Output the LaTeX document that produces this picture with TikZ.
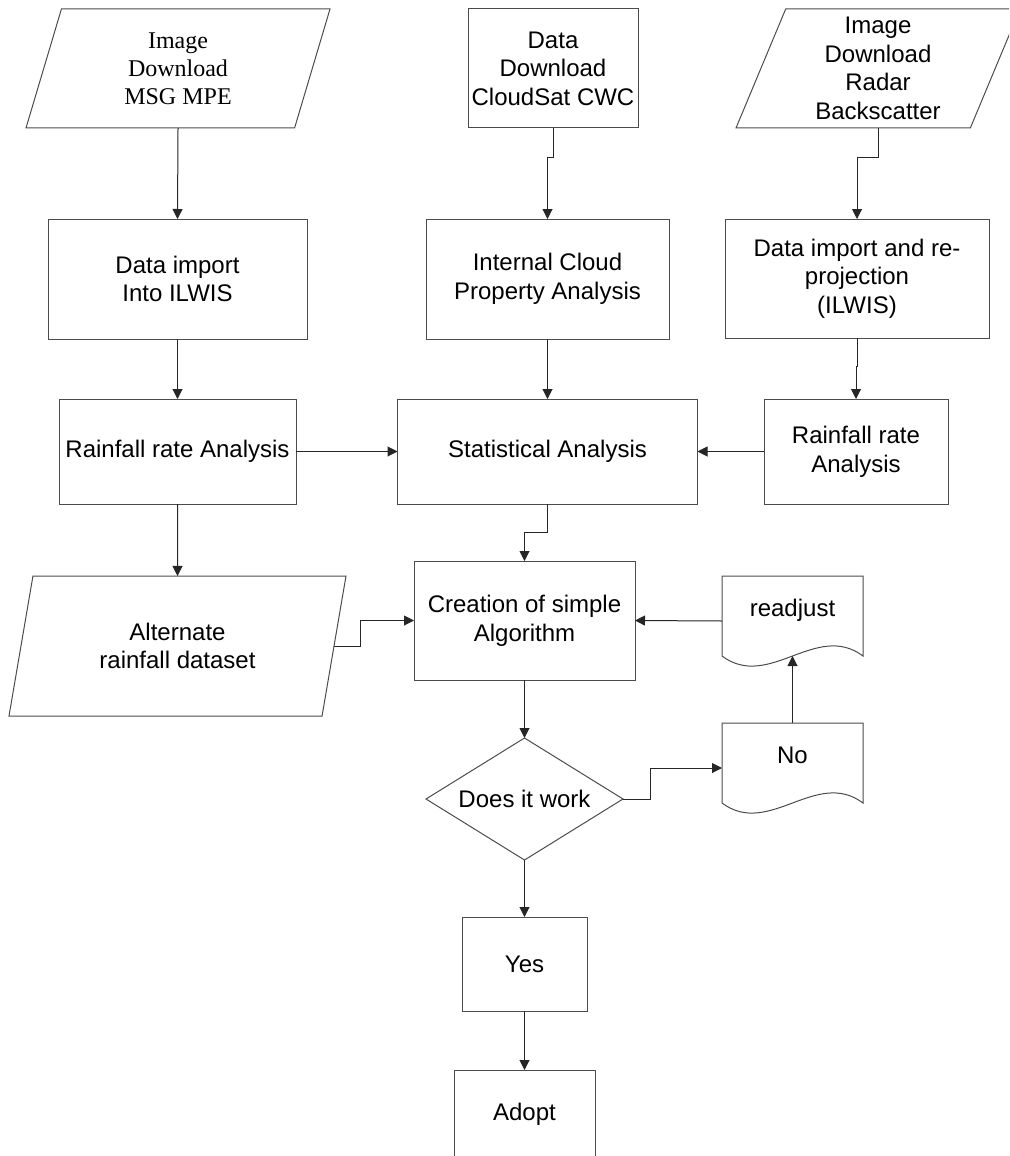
\documentclass[tikz,border=0pt]{standalone}
\usepackage{fontspec}
\setmainfont{Liberation Sans}
\newfontfamily\serifbox{Liberation Serif}
\usetikzlibrary{positioning, shapes.geometric, arrows.meta}

\begin{document}
\begin{tikzpicture}[
        x=0.5pt, y=-0.5pt,
        every node/.style={font=\fontsize{12pt}{14.3pt}\selectfont, align=center, outer sep=0pt},
        boxsize/.style 2 args={minimum width=#1*0.5pt, minimum height=#2*0.5pt},
        process/.style={rectangle, draw=black!70, line width=0.5pt, inner sep=1pt},
        inout/.style={trapezium, trapezium left angle=65, trapezium right angle=115, trapezium stretches body, draw=black!70, line width=0.5pt, inner sep=1pt},
        decision/.style={diamond, draw=black!70, line width=0.5pt, inner sep=0pt, aspect=1.6},
        docbox/.style={rectangle, inner sep=1pt, text height=9pt, text depth=14pt},
        flow/.style={-{Triangle[length=5pt, width=5pt]}, line width=0.5pt, black!85},
    ]
        \useasboundingbox (0,0) rectangle (1009,1156);
        \clip (0,0) rectangle (1009,1156);

        % Nodes
        \node[inout, boxsize={304}{119}, font=\serifbox\fontsize{12pt}{14pt}\selectfont] (msg) at (178,68.5) {Image\\Download\\MSG MPE};
        \node[process, boxsize={170}{119}] (cloudsat) at (553,68.5) {Data\\Download\\CloudSat CWC};
        \node[inout, boxsize={284}{119}] (radar) at (878,68.5) {Image\\Download\\Radar\\Backscatter};

        \node[process, boxsize={259}{120}] (ilwis) at (177.5,279) {Data import\\Into ILWIS};
        \node[process, boxsize={243}{120}] (internal) at (547.5,279) {Internal Cloud\\Property Analysis};
        \node[process, boxsize={264}{119}] (reproj) at (857,278.5) {Data import and re-\\projection\\(ILWIS)};

        \node[process, boxsize={237}{105}] (rainleft) at (177.5,451.5) {Rainfall rate Analysis};
        \node[process, boxsize={300}{105}] (stats) at (547.5,451.5) {Statistical Analysis};
        \node[process, boxsize={184}{105}] (rainright) at (856,451.5) {Rainfall rate\\Analysis};

        \node[inout, boxsize={337}{140}, trapezium left angle=64.5, trapezium right angle=115.5] (alt) at (177.5,646) {Alternate\\rainfall dataset};
        \node[process, boxsize={221}{119}] (creation) at (524.5,620.5) {Creation of simple\\Algorithm};
        \node[docbox, boxsize={141}{90}] (readjust) at (792.5,621) {readjust};

        \node[decision, boxsize={197}{122}] (works) at (524.5,799) {Does it work};
        \node[docbox, boxsize={141}{90}] (no) at (792.5,768) {No};

        \node[process, boxsize={125}{94}] (yes) at (524.5,964) {Yes};
        \node[process, boxsize={141}{88}] (adopt) at (524.5,1114) {Adopt};

        % Document outlines
        \foreach \d in {readjust, no}
            \draw[black!70, line width=0.5pt] (\d.north west) -- (\d.north east) -- ([shift={(0,-10)}]\d.south east)
                .. controls ([shift={(-47,-45)}]\d.south east) and ([shift={(47,25)}]\d.south west)
                .. ([shift={(0,-10)}]\d.south west) -- cycle;

        % Arrows
        \draw[flow] (msg.south) -- (ilwis.north);
        \draw[flow] (cloudsat.south) -- ++(0,29) -| (internal.north);
        \draw[flow] (radar.south) -- ++(0,29) -| (reproj.north);
        \draw[flow] (ilwis.south) -- (rainleft.north);
        \draw[flow] (internal.south) -- (stats.north);
        \draw[flow] (reproj.south) -- ++(0,28) -| (rainright.north);
        \draw[flow] (rainleft.east) -- (stats.west);
        \draw[flow] (rainright.west) -- (stats.east);
        \draw[flow] (rainleft.south) -- (alt.north);
        \draw[flow] (stats.south) -- ++(0,28) -| (creation.north);
        \draw[flow] (alt.east) -- ++(26,0) |- (creation.west);
        \draw[flow] (readjust.west) -- (creation.east);
        \draw[flow] (creation.south) -- (works.north);
        \draw[flow] (works.east) -- ++(27,0) |- (no.west);
        \draw[flow] (no.north) -- ([yshift=5pt]readjust.south);
        \draw[flow] (works.south) -- (yes.north);
        \draw[flow] (yes.south) -- (adopt.north);

    \end{tikzpicture}
\end{document}
